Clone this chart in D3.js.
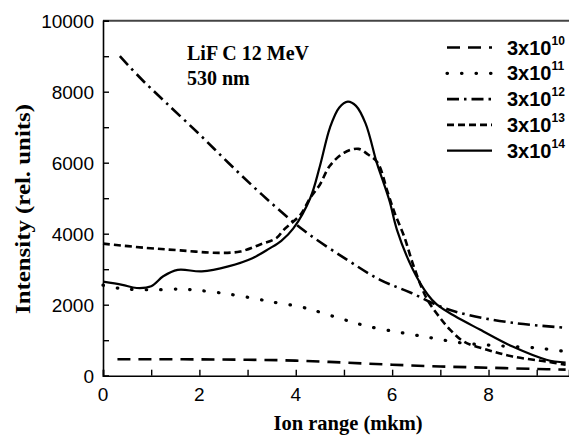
<!DOCTYPE html>
<html>
<head>
<meta charset="utf-8">
<script src="https://cdn.jsdelivr.net/npm/d3@7"></script>
<style>
  body { margin: 0; background: #fff; }
  svg { display: block; }
</style>
</head>
<body>
<div id="chart"></div>
<script>
// data
var legendNames = ["10", "11", "12", "13", "14"];   // 3x10^n
var xTicks = [0, 2, 4, 6, 8];
var yTicks = [0, 2000, 4000, 6000, 8000, 10000];

var x10 = [0.3, 1, 2, 3, 4, 5, 6, 7, 8, 9, 9.6];
var y10 = [465, 465, 460, 450, 425, 370, 310, 260, 225, 190, 170];

var x11 = [0, 0.4, 1, 1.6, 2, 2.6, 3.2, 3.5, 4.1, 4.4, 5, 5.5, 6.2, 6.8, 7.4, 8, 9, 9.6];
var y11 = [2550, 2450, 2420, 2440, 2400, 2300, 2160, 2080, 1940, 1830, 1580, 1390, 1210, 1070, 930, 860, 780, 680];

var x12 = [0.35, 0.8, 1.3, 2, 2.6, 3.3, 4.15, 5.06, 5.75, 6.4, 7.0, 7.55, 8.5, 9.6];
var y12 = [9000, 8350, 7700, 6800, 6000, 5100, 4110, 3270, 2700, 2330, 1950, 1720, 1490, 1350];

var x13 = [0, 0.9, 1.6, 2.4, 2.85, 3.25, 3.6, 3.75, 4.1, 4.3, 4.5, 4.7, 5.0, 5.3, 5.5, 5.7, 5.9, 6.05, 6.25, 6.45, 6.72, 7.0, 7.2, 7.5, 8.0, 8.5, 9.2, 9.6];
var y13 = [3720, 3600, 3530, 3460, 3500, 3690, 3880, 4110, 4540, 5010, 5380, 5900, 6280, 6390, 6230, 6000, 5200, 4590, 3920, 3070, 2170, 1620, 1300, 950, 720, 540, 400, 310];

var x14 = [0, 0.4, 0.7, 1.0, 1.25, 1.55, 2.05, 2.6, 3.1, 3.45, 3.7, 3.95, 4.3, 4.5, 4.71, 4.9, 5.08, 5.25, 5.45, 5.68, 5.8, 5.95, 6.1, 6.43, 6.74, 6.93, 7.3, 7.82, 8.5, 9.2, 9.6];
var y14 = [2650, 2560, 2470, 2520, 2800, 2980, 2940, 3080, 3310, 3580, 3800, 4150, 5000, 5900, 6990, 7550, 7720, 7600, 7100, 6000, 5520, 4900, 4110, 2990, 2280, 2000, 1680, 1300, 820, 450, 370];

var allX = [x10, x11, x12, x13, x14];
var allY = [y10, y11, y12, y13, y14];
var dashes = ["13,8", "0.5,14", "12,5,2.5,5", "7,4", null];

var width = 569, height = 437;

var svg = d3.select("#chart").append("svg")
    .attr("width", width)
    .attr("height", height);

svg.append("rect").attr("width", width).attr("height", height).attr("fill", "#fff");

var x = d3.scaleLinear().domain([0, 9.67]).range([103, 569]);
var y = d3.scaleLinear().domain([0, 10000]).range([375.7, 20.7]);

// top frame line
svg.append("line")
    .attr("x1", x(0)).attr("x2", width)
    .attr("y1", y(10000)).attr("y2", y(10000))
    .attr("stroke", "#444").attr("stroke-width", 2);

// axes, ticks pointing inward
var xAxis = d3.axisBottom(x).tickValues(d3.range(0, 10)).tickSize(-6).tickFormat("");
var yAxis = d3.axisLeft(y).tickValues(d3.range(0, 10001, 1000)).tickSize(-6).tickFormat("");

var gx = svg.append("g").attr("transform", "translate(0," + y(0) + ")").call(xAxis);
var gy = svg.append("g").attr("transform", "translate(" + x(0) + ",0)").call(yAxis);
[gx, gy].forEach(function(g) {
    g.select(".domain").attr("stroke", "#000").attr("stroke-width", 1.6);
    g.selectAll(".tick line").attr("stroke", "#000").attr("stroke-width", 1.4);
});

svg.selectAll(".xlab")
    .data(xTicks)
    .enter()
    .append("text")
    .attr("x", function(d) { return x(d); })
    .attr("y", 401)
    .attr("text-anchor", "middle")
    .style("font-family", "Liberation Sans, Arial, sans-serif")
    .style("font-size", "19px")
    .text(function(d) { return d; });

svg.selectAll(".ylab")
    .data(yTicks)
    .enter()
    .append("text")
    .attr("x", 94)
    .attr("y", function(d) { return y(d) + 6.8; })
    .attr("text-anchor", "end")
    .style("font-family", "Liberation Sans, Arial, sans-serif")
    .style("font-size", "19px")
    .text(function(d) { return d; });

// axis titles
svg.append("text")
    .attr("x", 348).attr("y", 430)
    .attr("text-anchor", "middle")
    .style("font-family", "Liberation Serif, Times New Roman, serif")
    .style("font-weight", "bold")
    .style("font-size", "20.5px")
    .text("Ion range (mkm)");

svg.append("text")
    .attr("transform", "translate(30,209) rotate(-90)")
    .attr("text-anchor", "middle")
    .attr("textLength", 210)
    .attr("lengthAdjust", "spacingAndGlyphs")
    .style("font-family", "Liberation Serif, Times New Roman, serif")
    .style("font-weight", "bold")
    .style("font-size", "21px")
    .text("Intensity (rel. units)");

// annotation
var note = svg.append("text")
    .style("font-family", "Liberation Serif, Times New Roman, serif")
    .style("font-weight", "bold")
    .style("font-size", "20px");
note.append("tspan").attr("x", 187).attr("y", 60).text("LiF C 12 MeV");
note.append("tspan").attr("x", 187).attr("y", 85).text("530 nm");

// curves
var line = d3.line()
    .x(function(d) { return x(d[0]); })
    .y(function(d) { return y(d[1]); })
    .curve(d3.curveCatmullRom.alpha(0.5));

allX.forEach(function(xs, i) {
    var pts = xs.map(function(v, j) { return [v, allY[i][j]]; });
    svg.append("path")
        .datum(pts)
        .attr("d", line)
        .attr("fill", "none")
        .attr("stroke", "#000")
        .attr("stroke-width", i === 1 ? 3.2 : (i === 4 ? 2.2 : 2.6))
        .attr("stroke-linecap", i === 1 ? "round" : "butt")
        .attr("stroke-dasharray", dashes[i]);
});

// legend
var legend = svg.selectAll(".leg")
    .data(legendNames)
    .enter()
    .append("g")
    .attr("transform", function(d, i) { return "translate(0," + (54.5 + i * 25.8) + ")"; });

legend.append("line")
    .attr("x1", 447).attr("x2", 492)
    .attr("y1", -7).attr("y2", -7)
    .attr("stroke", "#000")
    .attr("stroke-width", function(d, i) { return i === 1 ? 3.2 : (i === 4 ? 2.2 : 2.6); })
    .attr("stroke-linecap", function(d, i) { return i === 1 ? "round" : "butt"; })
    .attr("stroke-dasharray", function(d, i) { return dashes[i]; });

var lt = legend.append("text")
    .attr("x", 507)
    .style("font-family", "Liberation Sans, Arial, sans-serif")
    .style("font-weight", "bold")
    .style("font-size", "20px");
lt.append("tspan").text("3x10");
lt.append("tspan")
    .attr("dy", -10)
    .style("font-size", "12px")
    .text(function(d) { return d; });
</script>
</body>
</html>
